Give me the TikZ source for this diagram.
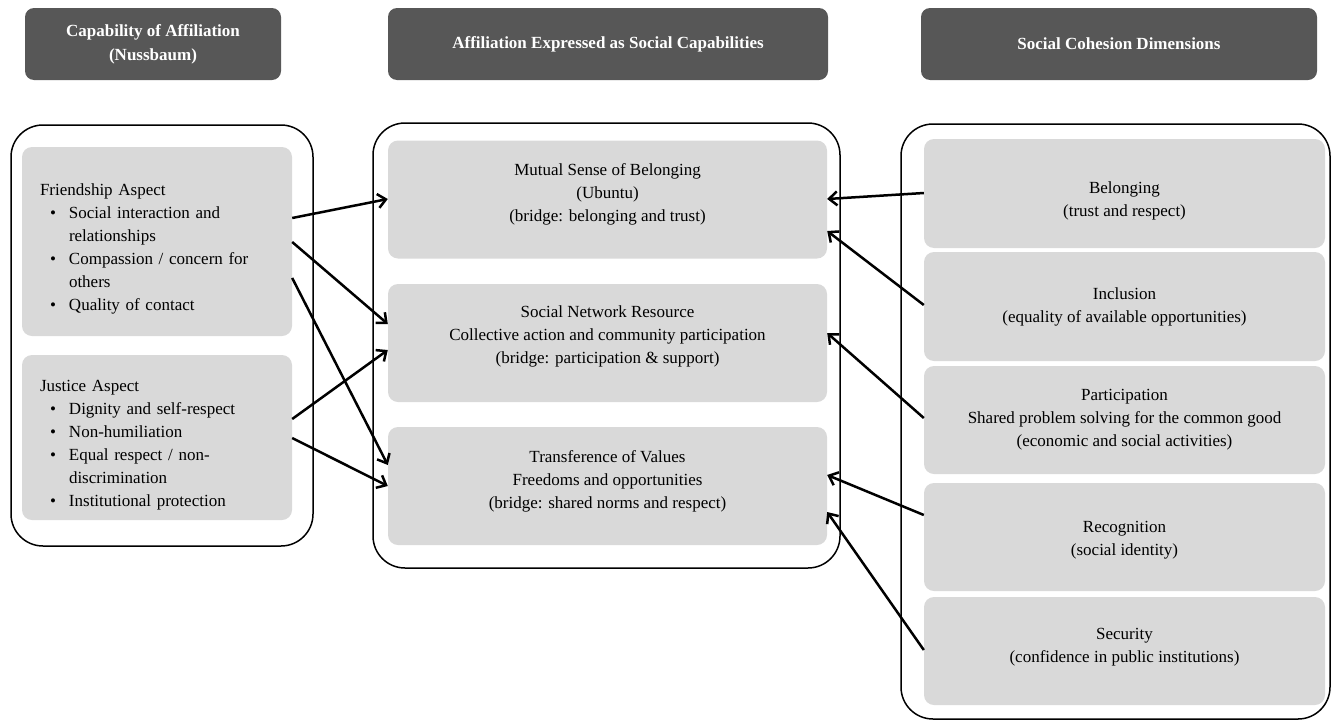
\documentclass[tikz,border=0pt]{standalone}
\usepackage{fontspec}
\setmainfont{Liberation Serif}
\usepackage{xcolor}
\usetikzlibrary{arrows.meta,positioning}
\definecolor{hdrgray}{RGB}{87,87,87}
\definecolor{boxgray}{RGB}{217,217,217}
\newcommand{\bul}{\makebox[29pt][l]{\hspace{10pt}\textbullet}}
\newcommand{\cont}{\hspace*{29pt}}
% shift the text of a box without moving the box
\newcommand{\lift}[3][c]{\raisebox{#2}[\height][\depth]{\begin{tabular}{@{}#1@{}}#3\end{tabular}}}

\begin{document}
\begin{tikzpicture}[x = 1pt, y = -1pt,
    font = \fontsize{17pt}{23pt}\selectfont,
    header/.style = {fill = hdrgray, text = white, font = \fontsize{17pt}{24pt}\selectfont\bfseries,
      rounded corners = 9pt, align = center, minimum height = 72pt, inner sep = 0pt},
    frame/.style = {draw, line width = 1.5pt, rounded corners = 32pt},
    aspect/.style = {fill = boxgray, rounded corners = 10pt, minimum width = 270pt,
      text width = 234pt, inner xsep = 18pt, align = left},
    capab/.style = {fill = boxgray, rounded corners = 10pt, minimum width = 439pt,
      minimum height = 118pt, inner sep = 0pt, align = center},
    dimen/.style = {fill = boxgray, rounded corners = 10pt, minimum width = 401pt,
      minimum height = 108pt, inner sep = 0pt, align = center},
    link/.style = {-{Straight Barb[length = 8pt, width = 14pt]}, line width = 2.5pt}]
    \useasboundingbox (0,0) rectangle (1332,723);

    % column headers
    \node[header, minimum width = 256pt] (hnuss) at (153,44) {Capability of Affiliation\\(Nussbaum)};
    \node[header, minimum width = 440pt] (hsoc) at (608,44) {Affiliation Expressed as Social Capabilities};
    \node[header, minimum width = 396pt] (hcoh) at (1119,44) {Social Cohesion Dimensions};

    % column frames
    \draw[frame] (11,125) rectangle (313,546);
    \draw[frame] (373,123) rectangle (840,568);
    \draw[frame] (901,124) rectangle (1330,719);

    % left column
    \node[aspect, minimum height = 189pt] (friend) at (157,241.5) {\lift[l]{-7pt}{Friendship Aspect\\
      \bul Social interaction and\\ \cont relationships\\
      \bul Compassion / concern for\\ \cont others\\
      \bul Quality of contact}};
    \node[aspect, minimum height = 165pt] (justice) at (157,437.5) {\lift[l]{-7pt}{Justice Aspect\\
      \bul Dignity and self-respect\\
      \bul Non-humiliation\\
      \bul Equal respect / non-\\ \cont discrimination\\
      \bul Institutional protection}};

    % middle column
    \node[capab] (mutual) at (607.5,199.5) {\lift{6pt}{Mutual Sense of Belonging\\(Ubuntu)\\(bridge: belonging and trust)}};
    \node[capab] (network) at (607.5,343) {\lift{7pt}{Social Network Resource\\Collective action and community participation\\(bridge: participation \& support)}};
    \node[capab] (transfer) at (607.5,486) {\lift{5pt}{Transference of Values\\Freedoms and opportunities\\(bridge: shared norms and respect)}};

    % right column
    \node[dimen, minimum height = 109pt] (belong) at (1124.5,193.5) {\lift{-7pt}{Belonging\\(trust and respect)}};
    \node[dimen, minimum height = 109pt] (incl) at (1124.5,306.5) {Inclusion\\(equality of available opportunities)};
    \node[dimen] (partic) at (1124.5,420) {Participation\\Shared problem solving for the common good\\(economic and social activities)};
    \node[dimen] (recog) at (1124.5,537) {\lift{-2pt}{Recognition\\(social identity)}};
    \node[dimen] (secur) at (1124.5,651) {\lift{5pt}{Security\\(confidence in public institutions)}};

    % aspects to social capabilities
    \draw[link] (friend.east |- 0,218) -- (mutual.west |- 0,199);
    \draw[link] (friend.east |- 0,242) -- (network.west |- 0,324);
    \draw[link] (friend.east |- 0,278) -- (transfer.west |- 0,465);
    \draw[link] (justice.east |- 0,419) -- (network.west |- 0,350);
    \draw[link] (justice.east |- 0,438) -- (transfer.west |- 0,486);

    % cohesion dimensions to social capabilities
    \draw[link] (belong.west |- 0,193) -- (mutual.east |- 0,199);
    \draw[link] (incl.west |- 0,305) -- (mutual.east |- 0,231);
    \draw[link] (partic.west |- 0,418) -- (network.east |- 0,333);
    \draw[link] (recog.west |- 0,515) -- (transfer.east |- 0,475);
    \draw[link] (secur.west |- 0,650) -- (transfer.east |- 0,512);
  \end{tikzpicture}
\end{document}
